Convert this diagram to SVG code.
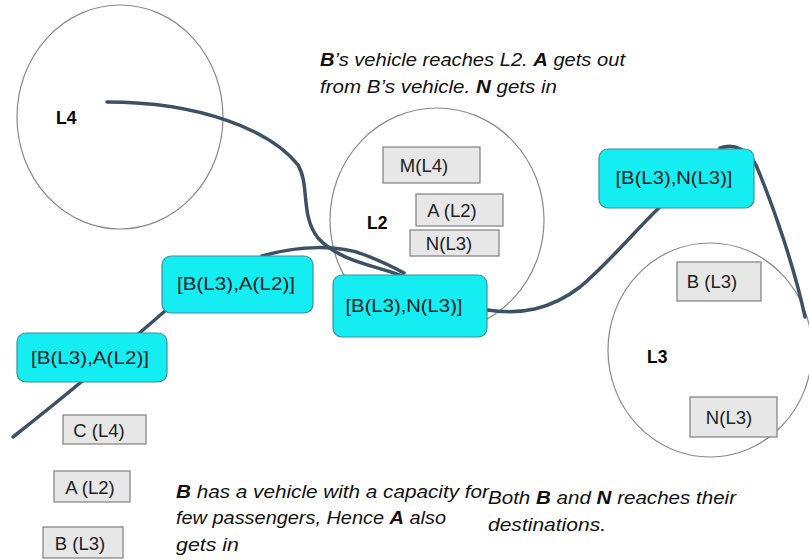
<svg xmlns="http://www.w3.org/2000/svg" width="809" height="560" viewBox="0 0 809 560">
  <style>
    .loc { fill: none; stroke: #8a8a8a; stroke-width: 1.2; }
    .loc-label { font-family: "Liberation Sans", Arial, sans-serif; font-weight: bold; font-size: 17.5px; fill: #000; }
    .pax rect { fill: #e7e7e8; stroke: #7f7f7f; stroke-width: 1.2; }
    .veh rect { fill: #14eef2; stroke: #3f8f9a; stroke-width: 1.2; }
    .lbl { font-family: "Liberation Sans", Arial, sans-serif; font-size: 18.5px; fill: #222; text-anchor: middle; }
    .note { font-family: "Liberation Sans", Arial, sans-serif; font-style: italic; font-size: 18px; fill: #111; }
    .route { fill: none; stroke: #3d5166; stroke-width: 3.5; stroke-linecap: round; }
  </style>

  <!-- locations -->
  <g id="L4">
    <ellipse class="loc" cx="120" cy="117" rx="103" ry="112"/>
    <text class="loc-label" x="56" y="124">L4</text>
  </g>
  <g id="L2">
    <ellipse class="loc" cx="437" cy="220" rx="107" ry="112"/>
    <text class="loc-label" x="367" y="229">L2</text>
  </g>
  <g id="L3">
    <ellipse class="loc" cx="710" cy="350" rx="102" ry="107"/>
    <text class="loc-label" x="647" y="363">L3</text>
  </g>

  <!-- routes -->
  <g id="connectors">
    <path class="route" d="M13,437 C60,400 120,350 165,311"/>
    <path class="route" d="M262,256 C300,245 340,245 365,255 C385,263 395,268 404,273"/>
    <path class="route" d="M107,102 C200,102 270,130 298,165 C310,185 300,215 318,238 C340,262 375,265 405,277"/>
    <path class="route" d="M487,310 C520,315 550,310 580,287 C610,262 640,225 662,205"/>
    <path class="route" d="M720,148 C735,143 748,150 756,165 C775,210 795,270 805,317"/>
  </g>

  <!-- vehicles -->
  <g id="veh1" class="veh">
    <rect x="17" y="333" width="150" height="49" rx="9"/>
    <text class="lbl" x="90" y="364" textLength="118" lengthAdjust="spacingAndGlyphs">[B(L3),A(L2)]</text>
  </g>
  <g id="veh2" class="veh">
    <rect x="162" y="256" width="151" height="57" rx="9"/>
    <text class="lbl" x="236" y="290" textLength="118" lengthAdjust="spacingAndGlyphs">[B(L3),A(L2)]</text>
  </g>
  <g id="veh3" class="veh">
    <rect x="333" y="275" width="154" height="62" rx="9"/>
    <text class="lbl" x="404" y="312" textLength="117" lengthAdjust="spacingAndGlyphs">[B(L3),N(L3)]</text>
  </g>
  <g id="veh4" class="veh">
    <rect x="599" y="149" width="155" height="59" rx="9"/>
    <text class="lbl" x="674" y="184" textLength="117" lengthAdjust="spacingAndGlyphs">[B(L3),N(L3)]</text>
  </g>

  <!-- passengers -->
  <g id="pC" class="pax">
    <rect x="63" y="415" width="83" height="29"/>
    <text class="lbl" x="99" y="437">C (L4)</text>
  </g>
  <g id="pA" class="pax">
    <rect x="54" y="471" width="76" height="31"/>
    <text class="lbl" x="90" y="494">A (L2)</text>
  </g>
  <g id="pB" class="pax">
    <rect x="43" y="527" width="80" height="31"/>
    <text class="lbl" x="80" y="550">B (L3)</text>
  </g>
  <g id="pM2" class="pax">
    <rect x="383" y="147" width="97" height="36"/>
    <text class="lbl" x="424" y="172">M(L4)</text>
  </g>
  <g id="pA2" class="pax">
    <rect x="416" y="194" width="87" height="32"/>
    <text class="lbl" x="452" y="217">A (L2)</text>
  </g>
  <g id="pN2" class="pax">
    <rect x="410" y="230" width="89" height="26"/>
    <text class="lbl" x="449" y="250">N(L3)</text>
  </g>
  <g id="pB3" class="pax">
    <rect x="677" y="262" width="84" height="39"/>
    <text class="lbl" x="712" y="288">B (L3)</text>
  </g>
  <g id="pN3" class="pax">
    <rect x="690" y="397" width="87" height="40"/>
    <text class="lbl" x="729" y="424">N(L3)</text>
  </g>

  <!-- notes -->
  <g id="notes">
    <text class="note" x="320" y="66" textLength="305" lengthAdjust="spacingAndGlyphs"><tspan font-weight="bold">B</tspan>’s vehicle reaches L2. <tspan font-weight="bold">A</tspan> gets out</text>
    <text class="note" x="320" y="93" textLength="237" lengthAdjust="spacingAndGlyphs">from B’s vehicle. <tspan font-weight="bold">N</tspan> gets in</text>
    <text class="note" x="176" y="498" textLength="313" lengthAdjust="spacingAndGlyphs"><tspan font-weight="bold">B</tspan> has a vehicle with a capacity for</text>
    <text class="note" x="176" y="524" textLength="270" lengthAdjust="spacingAndGlyphs">few passengers, Hence <tspan font-weight="bold">A</tspan> also</text>
    <text class="note" x="176" y="551" textLength="63" lengthAdjust="spacingAndGlyphs">gets in</text>
    <text class="note" x="488" y="504" textLength="248" lengthAdjust="spacingAndGlyphs">Both <tspan font-weight="bold">B</tspan> and <tspan font-weight="bold">N</tspan> reaches their</text>
    <text class="note" x="488" y="531" textLength="118" lengthAdjust="spacingAndGlyphs">destinations.</text>
  </g>
</svg>
